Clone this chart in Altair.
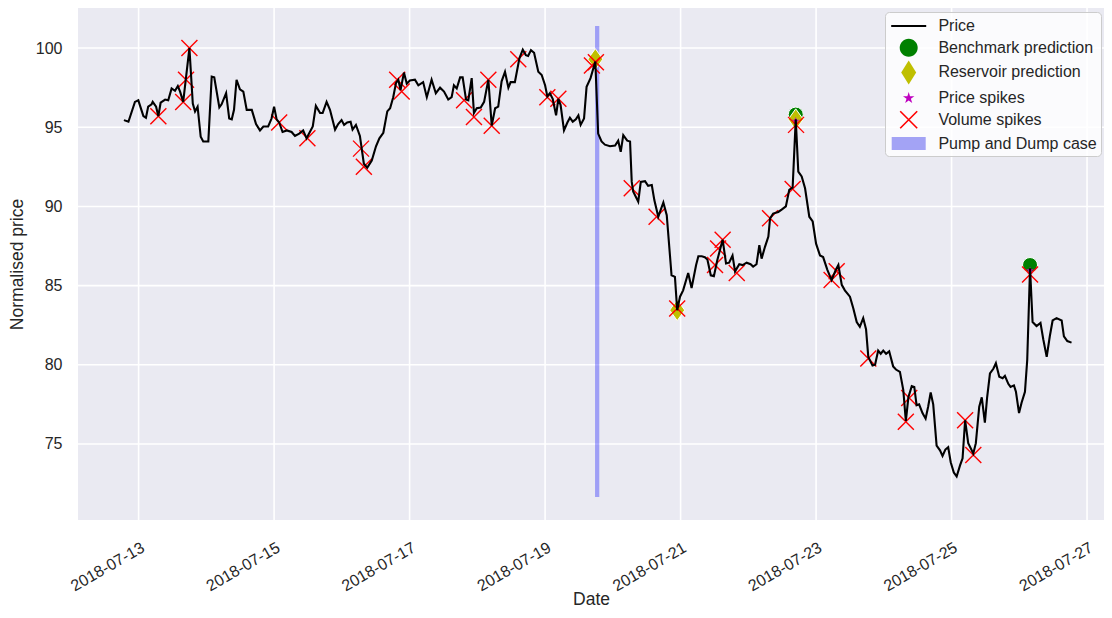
import altair as alt
import pandas as pd

BASE = pd.Timestamp("2018-07-12 00:00:00")

# price series (hours since 2018-07-12 00:00)
price_hours = [18.8, 20.4, 22.7, 23.9, 25.7, 26.6, 27.4, 28.6, 29.0, 30.2, 31.0, 31.8, 33.4, 34.5, 35.7, 36.9, 37.9, 38.7, 39.8, 42.0,
               43.2, 44.0, 44.9, 46.0, 46.9, 48.7, 49.9, 50.8, 52.6, 53.4, 55.0, 56.1, 57.0, 57.8, 58.7, 59.9, 61.1, 62.3, 64.1, 65.6,
               67.0, 68.2, 69.9, 71.1, 72.0, 72.9, 73.8, 75.0, 76.5, 78.2, 79.4, 80.9, 82.3, 83.5, 85.7, 86.8, 88.3, 89.2, 90.6, 91.8,
               93.6, 94.7, 95.9, 96.8, 97.9, 99.1, 99.8, 101.0, 102.4, 103.8, 105.0, 106.6, 108.1, 109.3, 110.7, 112.1, 113.1, 114.2, 115.2, 116.0,
               116.8, 118.0, 119.0, 120.1, 121.9, 123.1, 124.8, 126.1, 127.8, 129.3, 130.8, 132.2, 133.7, 134.9, 135.7, 136.7, 137.9, 138.8, 140.0, 140.8,
               142.0, 142.8, 143.8, 145.2, 146.4, 147.9, 149.1, 150.3, 151.4, 152.6, 153.8, 155.0, 155.8, 157.3, 158.9, 160.1, 161.2, 162.0, 163.0, 164.1,
               165.6, 166.8, 168.0, 168.8, 169.7, 170.7, 171.9, 172.7, 173.5, 174.7, 175.9, 176.8, 177.8, 178.9, 179.8, 180.6, 181.8, 182.7, 184.1, 185.8,
               186.8, 188.0, 189.2, 191.0, 192.8, 193.9, 194.8, 195.7, 197.1, 198.1, 198.7, 199.2, 201.0, 201.9, 203.4, 204.5, 205.8, 206.7, 208.1, 209.9,
               211.1, 212.8, 214.0, 214.8, 215.8, 216.9, 218.7, 219.9, 221.5, 222.3, 223.5, 224.6, 225.5, 226.7, 227.8, 229.0, 230.9, 232.1, 233.2, 234.4,
               235.3, 236.8, 238.0, 239.4, 240.8, 241.7, 242.9, 243.9, 244.7, 245.9, 247.1, 247.7, 248.8, 250.6, 251.8, 253.3, 254.5, 255.7, 256.8, 257.7,
               258.9, 260.1, 261.6, 262.8, 264.0, 265.4, 266.5, 268.0, 269.5, 271.0, 271.9, 273.1, 274.2, 276.0, 277.2, 278.4, 279.5, 280.7, 281.7, 282.5,
               284.0, 284.9, 286.0, 286.9, 287.8, 288.8, 289.9, 291.3, 292.3, 293.7, 294.9, 295.8, 296.7, 297.9, 298.8, 299.6, 300.5, 301.7, 302.8, 303.7,
               304.6, 305.5, 306.7, 307.9, 308.8, 309.8, 310.8, 311.7, 312.8, 313.8, 315.0, 315.9, 316.8, 317.9, 319.7, 320.6, 321.8, 322.7, 323.8, 324.6,
               325.6, 326.8, 327.7, 328.9, 330.1, 330.9, 332.1, 332.9, 334.1, 334.8, 335.9, 336.8, 338.0, 338.8, 339.8, 340.7, 342.1, 343.5, 344.5, 345.7,
               346.8, 347.8, 349.2, 351.0, 351.8, 353.0, 354.5]
price_values = [95.45, 95.35, 96.6, 96.7, 95.7, 95.6, 96.3, 96.45, 96.6, 96.3, 95.7, 96.55, 96.75, 96.7, 97.45, 97.3, 97.6, 97.25, 96.6, 100.0,
                96.5, 96.0, 96.3, 94.4, 94.1, 94.1, 98.2, 98.15, 96.25, 96.45, 97.15, 95.55, 95.5, 96.1, 98.0, 97.4, 97.25, 96.1, 96.1, 95.2,
                94.8, 95.05, 95.05, 95.55, 96.3, 95.5, 95.3, 94.7, 94.8, 94.7, 94.45, 94.6, 94.8, 94.3, 95.05, 96.35, 95.9, 95.9, 96.6, 96.1,
                94.85, 95.2, 95.45, 95.15, 95.3, 95.35, 94.85, 95.15, 94.45, 92.7, 92.45, 92.9, 93.8, 94.3, 94.65, 96.0, 96.2, 96.9, 97.8, 98.0,
                97.35, 98.45, 97.75, 97.95, 98.0, 97.65, 97.85, 96.9, 98.0, 97.15, 97.5, 97.25, 96.75, 96.9, 97.65, 97.45, 98.15, 98.15, 96.75, 96.7,
                98.1, 95.9, 96.2, 96.25, 96.6, 98.0, 95.1, 96.2, 96.3, 97.9, 98.5, 97.5, 97.85, 97.85, 99.35, 99.9, 99.55, 99.5, 99.87, 99.7,
                98.5, 98.3, 97.65, 96.95, 97.15, 96.8, 95.75, 96.8, 96.4, 94.8, 95.3, 95.6, 95.35, 95.5, 95.75, 95.15, 95.55, 97.55, 98.1, 99.15,
                94.6, 94.1, 93.9, 93.8, 93.85, 94.15, 93.45, 94.5, 94.15, 94.1, 91.55, 90.95, 90.3, 91.55, 91.6, 91.3, 91.35, 90.4, 89.35, 90.25,
                89.45, 85.65, 85.55, 83.45, 84.3, 84.7, 85.8, 84.85, 86.3, 86.85, 86.85, 86.8, 86.65, 85.65, 85.6, 86.6, 87.9, 86.4, 86.45, 86.9,
                85.9, 86.35, 86.3, 86.45, 86.35, 86.2, 86.35, 87.55, 86.7, 87.45, 88.1, 89.25, 89.55, 89.65, 89.8, 90.0, 91.05, 91.2, 95.5, 92.2,
                91.9, 91.15, 89.35, 89.05, 87.65, 86.9, 86.8, 86.0, 85.35, 86.0, 86.3, 85.05, 84.7, 84.3, 83.55, 82.7, 82.4, 82.95, 82.25, 80.5,
                79.95, 80.0, 80.9, 80.7, 80.9, 80.7, 80.85, 79.9, 79.7, 79.55, 78.4, 76.45, 77.95, 78.65, 78.6, 77.45, 77.5, 76.95, 76.6, 77.35,
                78.25, 77.5, 74.9, 74.6, 74.25, 74.65, 74.8, 73.85, 73.2, 72.95, 73.65, 74.1, 76.5, 75.05, 74.4, 75.05, 77.35, 77.95, 76.35, 77.95,
                79.45, 79.75, 80.1, 79.25, 79.15, 79.3, 78.8, 78.6, 78.7, 78.3, 76.95, 77.6, 78.3, 80.3, 86.1, 82.7, 82.45, 82.65, 81.6, 80.5,
                81.8, 82.8, 82.95, 82.8, 81.8, 81.5, 81.4]

volume_hours = [31.0, 39.8, 40.8, 42.0, 73.8, 83.8, 102.8, 103.8, 115.6, 117.2, 139.3, 142.8, 147.9, 149.1, 158.5, 168.8, 172.7,
                184.6, 186.0, 198.7, 207.5, 214.8, 228.2, 229.3, 230.9, 235.9, 247.7, 255.7, 256.9, 269.5, 271.3, 282.5, 295.8,
                297.0, 316.8, 319.7, 339.8]
volume_values = [95.7, 96.6, 98.0, 100.0, 95.3, 94.3, 93.65, 92.5, 98.0, 97.25, 96.7, 95.65, 98.0, 95.1, 99.3, 96.9, 96.8,
                 98.9, 99.1, 91.15, 89.35, 83.55, 86.3, 87.35, 87.9, 85.8, 89.25, 91.1, 95.15, 85.35, 85.9, 80.4, 76.4,
                 77.9, 76.5, 74.3, 85.7]

benchmark_hours = [256.8, 339.8]
benchmark_values = [95.8, 86.3]

reservoir_hours = [185.8, 214.8, 256.8]
reservoir_values = [99.3, 83.45, 95.5]

spike_hours = [256.8, 339.8]
spike_values = [95.4, 85.95]

pump_hours = [185.7, 187.2]
pump_values = [71.65, 101.4]

legend_labels = ["Price", "Benchmark prediction", "Reservoir prediction", "Price spikes", "Volume spikes", "Pump and Dump case"]
legend_colors = ["#000000", "#008000", "#bfbf00", "#bf00bf", "#ff0000", "#a3a3f5"]
legend_shapes = [
    "M-1.75,-0.1H1.75V0.1H-1.75Z",
    "M-0.9,0A0.9,0.9,0,1,1,0.9,0A0.9,0.9,0,1,1,-0.9,0Z",
    "M0,-1.2L0.75,0L0,1.2L-0.75,0Z",
    "M0,-0.6L0.134,-0.184L0.571,-0.185L0.217,0.07L0.353,0.485L0,0.228L-0.353,0.485L-0.217,0.07L-0.571,-0.185L-0.134,-0.184Z",
    "M-0.793,-0.907L0.907,0.793L0.793,0.907L-0.907,-0.793ZM-0.907,0.793L0.793,-0.907L0.907,-0.793L-0.793,0.907Z",
    "M-1.7,-0.65H1.7V0.65H-1.7Z",
]

x_ticks = [13, 15, 17, 19, 21, 23, 25, 27]
y_ticks = [75, 80, 85, 90, 95, 100]

FONT = "Liberation Sans"
PANEL = "#eaeaf2"


def frame(hours, values):
    return pd.DataFrame({"Date": BASE + pd.to_timedelta(hours, unit="h"), "Price": values})


price_df = frame(price_hours, price_values)
volume_df = frame(volume_hours, volume_values)
bench_df = frame(benchmark_hours, benchmark_values)
res_df = frame(reservoir_hours, reservoir_values)
spike_df = frame(spike_hours, spike_values)
pump_df = pd.DataFrame({
    "Date": [BASE + pd.to_timedelta(pump_hours[0], unit="h")],
    "DateEnd": [BASE + pd.to_timedelta(pump_hours[1], unit="h")],
    "Price": [pump_values[0]],
    "PriceTop": [pump_values[1]],
})
xgrid_df = pd.DataFrame({"Date": [pd.Timestamp(2018, 7, d) for d in x_ticks]})
ygrid_df = pd.DataFrame({"Price": y_ticks})
legend_df = pd.DataFrame({"Series": legend_labels})

x_enc = alt.X(
    "Date:T",
    scale=alt.Scale(domain=[alt.DateTime(year=2018, month=7, date=12, hours=2, minutes=32),
                            alt.DateTime(year=2018, month=7, date=27, hours=6)]),
    axis=alt.Axis(
        values=[alt.DateTime(year=2018, month=7, date=d) for d in x_ticks],
        format="%Y-%m-%d", title="Date", labelAngle=330, labelAlign="right",
        labelBaseline="top", labelPadding=19, titlePadding=-3,
    ),
)
y_enc = alt.Y(
    "Price:Q",
    scale=alt.Scale(domain=[70.2, 102.53], nice=False, zero=False),
    axis=alt.Axis(values=y_ticks, title="Normalised price", labelPadding=16, titlePadding=9),
)

panel = alt.Chart(pd.DataFrame({"k": [0]})).mark_rect(color=PANEL).encode(
    x=alt.value(0), x2=alt.value("width"), y=alt.value(0), y2=alt.value("height")
)
xgrid = alt.Chart(xgrid_df).mark_rule(color="white", strokeWidth=1.6).encode(
    x=x_enc, y=alt.value(0), y2=alt.value("height")
)
ygrid = alt.Chart(ygrid_df).mark_rule(color="white", strokeWidth=1.6).encode(
    y=y_enc, x=alt.value(0), x2=alt.value("width")
)
span = alt.Chart(pump_df).mark_rect(color="blue", opacity=0.32).encode(
    x=x_enc, x2="DateEnd:T", y=y_enc, y2="PriceTop:Q"
)
circles = alt.Chart(bench_df).mark_point(
    shape="circle", filled=True, fill="#008000", stroke="white", strokeWidth=1, size=225, opacity=1
).encode(x=x_enc, y=y_enc)
diamonds = alt.Chart(res_df).mark_point(
    shape="M0,-1.4L1,0L0,1.4L-1,0Z", filled=True, fill="#bfbf00", stroke="white", strokeWidth=1, size=225, opacity=1
).encode(x=x_enc, y=y_enc)
stars = alt.Chart(spike_df).mark_point(
    shape="M0,-1L0.223,-0.307L0.951,-0.309L0.361,0.117L0.588,0.809L0,0.38L-0.588,0.809L-0.361,0.117L-0.951,-0.309L-0.223,-0.307Z",
    filled=True, fill="#bf00bf", strokeWidth=0, size=64, opacity=1
).encode(x=x_enc, y=y_enc)
crosses = alt.Chart(volume_df).mark_point(
    shape="M-1,-1L1,1M-1,1L1,-1", filled=False, stroke="#ff0000", strokeWidth=1.4, size=256, opacity=1
).encode(x=x_enc, y=y_enc)
line = alt.Chart(price_df).mark_line(color="black", strokeWidth=2.1).encode(x=x_enc, y=y_enc)

legend = alt.Legend(
    title=None, orient="none", legendX=807, legendY=4, symbolSize=400, symbolStrokeWidth=0,
    symbolOpacity=1, symbolOffset=9.7, labelOffset=19.7, rowPadding=3.7, padding=4,
    fillColor="rgba(255,255,255,0.8)", strokeColor="#cccccc", cornerRadius=4,
    labelFont=FONT, labelFontSize=16, labelColor="#262626", labelLimit=400,
)
legend_layer = alt.Chart(legend_df).mark_point(filled=True).encode(
    color=alt.Color("Series:N", scale=alt.Scale(domain=legend_labels, range=legend_colors), legend=legend),
    shape=alt.Shape("Series:N", scale=alt.Scale(domain=legend_labels, range=legend_shapes), legend=legend),
    opacity=alt.value(0),
)

chart = alt.layer(panel, xgrid, ygrid, span, circles, diamonds, stars, crosses, line, legend_layer).properties(
    width=1026, height=512,
    padding={"left": 70, "top": 0, "right": 0, "bottom": 90},
    autosize=alt.AutoSizeParams(type="none"),
).configure(background="white", font=FONT).configure_view(
    fill=PANEL, strokeWidth=0
).configure_axis(
    domain=False, ticks=False, tickSize=0, grid=False,
    labelFont=FONT, labelFontSize=16, labelColor="#262626",
    titleFont=FONT, titleFontSize=17.5, titleColor="#262626", titleFontWeight="normal",
)

chart.save("out.html", embed_options={"renderer": "svg", "actions": False})
